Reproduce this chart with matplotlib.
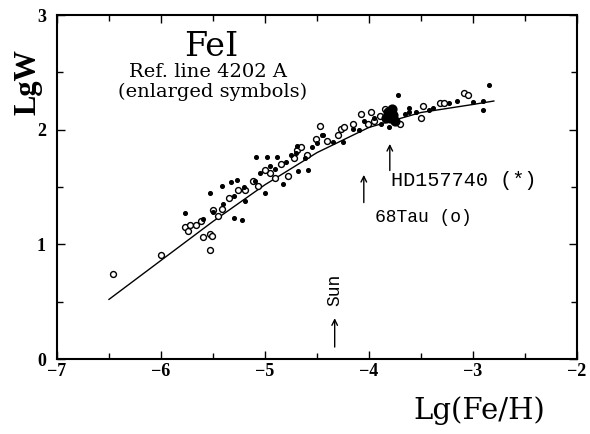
import matplotlib
matplotlib.use("Agg")
import matplotlib.pyplot as plt
from matplotlib.ticker import MultipleLocator

# ---- data ----
open_x = [-6.46, -6.0, -5.53, -5.53, -5.77, -5.72, -5.66, -5.74, -5.6, -5.51, -5.5, -5.41,
          -5.45, -5.26, -5.19, -5.07, -5.12, -4.95, -4.9, -4.78, -4.69, -4.85, -4.72, -4.6,
          -4.47, -4.51, -4.27, -4.24, -4.3, -4.08, -3.98, -4.01, -3.89, -3.95, -3.48, -3.5,
          -3.32, -3.28, -3.09, -3.05, -5.35, -5.62, -5.0, -4.65, -4.4, -4.15, -3.85, -3.7]
open_y = [0.74, 0.91, 1.09, 0.95, 1.15, 1.17, 1.17, 1.12, 1.06, 1.07, 1.3, 1.31,
          1.25, 1.47, 1.47, 1.51, 1.55, 1.62, 1.58, 1.6, 1.82, 1.7, 1.75, 1.78,
          2.03, 1.92, 2.01, 2.02, 1.95, 2.14, 2.15, 2.05, 2.12, 2.08, 2.21, 2.1,
          2.23, 2.23, 2.32, 2.3, 1.4, 1.2, 1.65, 1.85, 1.9, 2.05, 2.18, 2.05]

dot_x = [-5.77, -5.53, -5.41, -5.33, -5.27, -5.19, -5.3, -5.22, -5.09, -5.0, -4.83, -4.68,
         -4.59, -4.88, -4.98, -4.69, -5.6, -5.5, -5.4, -5.3, -5.2, -5.1, -5.05, -4.95,
         -4.9, -4.8, -4.75, -4.7, -4.62, -4.55, -4.5, -4.45, -4.44, -4.35, -4.25, -4.15,
         -4.1, -4.05, -3.95, -3.88, -3.81, -3.72, -3.65, -3.62, -3.62, -3.55, -3.42, -3.23,
         -3.15, -2.85, -2.9, -2.9, -3.0, -3.38]
dot_y = [1.27, 1.45, 1.51, 1.54, 1.56, 1.38, 1.23, 1.21, 1.76, 1.45, 1.53, 1.64,
         1.65, 1.76, 1.76, 1.86, 1.22, 1.28, 1.35, 1.42, 1.5, 1.55, 1.62, 1.68,
         1.66, 1.72, 1.78, 1.8, 1.75, 1.85, 1.88, 1.95, 1.95, 1.89, 1.89, 2.01,
         2.0, 2.08, 2.1, 2.05, 2.02, 2.3, 2.14, 2.15, 2.19, 2.15, 2.17, 2.23,
         2.25, 2.39, 2.25, 2.17, 2.24, 2.19]

big_x = [-3.8, -3.77, -3.82, -3.75, -3.78, -3.84]
big_y = [2.1, 2.13, 2.15, 2.08, 2.18, 2.1]

fit_x = [-6.5, -6.0, -5.5, -5.0, -4.5, -4.0, -3.5, -3.0, -2.8]
fit_y = [0.52, 0.86, 1.2, 1.52, 1.8, 2.02, 2.15, 2.22, 2.25]

xticks = [-7, -6, -5, -4, -3, -2]
yticks = [0, 1, 2, 3]

serif = ["DejaVu Serif"]
lserif = ["Liberation Serif", "DejaVu Serif"]
mono = ["Liberation Mono", "DejaVu Sans Mono"]

fig = plt.figure(figsize=(5.9, 4.34), dpi=100)
ax = fig.add_axes([0.0966, 0.1728, 0.8814, 0.7926])

ax.plot(fit_x, fit_y, color="black", lw=1.0)
ax.scatter(open_x, open_y, s=18, facecolors="white", edgecolors="black", linewidths=1.0, zorder=3)
ax.scatter(dot_x, dot_y, s=7, color="black", zorder=4)
ax.scatter(big_x, big_y, s=40, color="black", zorder=4)

ax.set_xlim(-7, -2)
ax.set_ylim(0, 3)
ax.set_xticks(xticks)
ax.set_yticks(yticks)
ax.set_xticklabels(["\u22127", "\u22126", "\u22125", "\u22124", "\u22123", "\u22122"])
ax.xaxis.set_minor_locator(MultipleLocator(0.5))
ax.yaxis.set_minor_locator(MultipleLocator(0.5))
ax.tick_params(which="both", direction="in", top=True, right=True, width=1.0)
ax.tick_params(which="major", length=6)
ax.tick_params(which="minor", length=4)
ax.tick_params(axis="x", pad=3)
ax.tick_params(axis="y", pad=8)
for lab in ax.get_xticklabels() + ax.get_yticklabels():
    lab.set_family(lserif)
    lab.set_fontweight("bold")
    lab.set_fontsize(13)
for sp in ax.spines.values():
    sp.set_linewidth(1.5)

fig.text(0.047, 0.81, "LgW", rotation=90, ha="center", va="center",
         family=lserif, fontsize=22, fontweight="bold")
fig.text(0.813, 0.055, "Lg(Fe/H)", ha="center", va="center", family=serif, fontsize=21)

ax.text(-5.52, 2.72, "FeI", ha="center", va="center", family=serif, fontsize=24)
ax.text(-5.55, 2.5, "Ref. line 4202 A", ha="center", va="center", family=serif,
        fontsize=14)
ax.text(-5.5, 2.33, "(enlarged symbols)", ha="center", va="center", family=serif,
        fontsize=14)

ax.annotate("", xy=(-3.8, 1.9), xytext=(-3.8, 1.62),
            arrowprops=dict(arrowstyle="->", color="black", lw=1.0))
ax.annotate("", xy=(-4.05, 1.63), xytext=(-4.05, 1.34),
            arrowprops=dict(arrowstyle="->", color="black", lw=1.0))
ax.annotate("", xy=(-4.33, 0.38), xytext=(-4.33, 0.08),
            arrowprops=dict(arrowstyle="->", color="black", lw=1.0))
ax.text(-3.79, 1.56, "HD157740 (*)", ha="left", va="center", family=mono, fontsize=14.5)
ax.text(-3.94, 1.23, "68Tau (o)", ha="left", va="center", family=mono, fontsize=13)
ax.text(-4.33, 0.6, "Sun", rotation=90, ha="center", va="center", family=mono, fontsize=13)

fig.savefig("out.png", dpi=100)
